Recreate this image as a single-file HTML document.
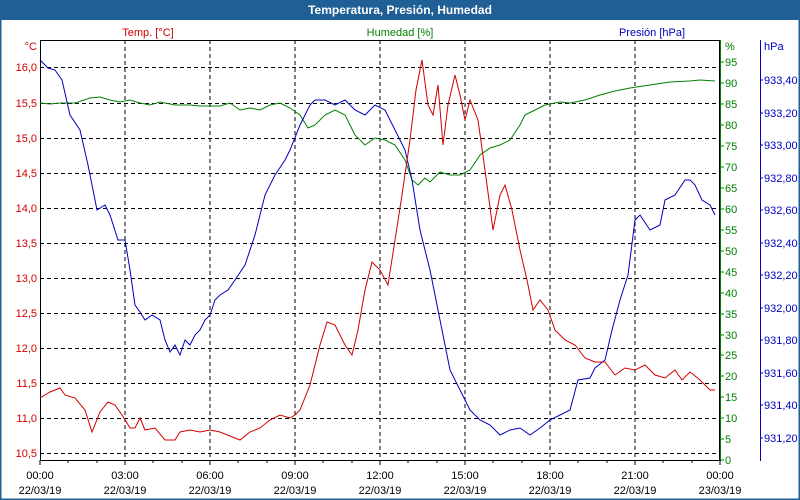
<!DOCTYPE html>
<html><head><meta charset="utf-8"><style>
html,body{margin:0;padding:0;background:#fff}
svg{display:block;font-family:"Liberation Sans",sans-serif}
</style></head><body>
<svg width="800" height="500" xmlns="http://www.w3.org/2000/svg">
<rect x="0" y="0" width="800" height="500" fill="#fff"/>
<rect x="0" y="0" width="800" height="20" fill="#1f5f96"/>
<rect x="0.5" y="0.5" width="799" height="499" fill="none" stroke="#1f5f96" stroke-width="2"/>
<text x="400" y="14" fill="#fff" font-size="12" font-weight="bold" text-anchor="middle">Temperatura, Presión, Humedad</text>
<g font-size="11">
<text x="148" y="36" fill="#d00000" text-anchor="middle">Temp. [°C]</text>
<text x="400" y="36" fill="#008000" text-anchor="middle">Humedad [%]</text>
<text x="652" y="36" fill="#0000c0" text-anchor="middle">Presión [hPa]</text>
</g>
<!-- grid -->
<g stroke="#000" stroke-dasharray="4,3" stroke-width="1">
<line x1="125" y1="40" x2="125" y2="460"/><line x1="210" y1="40" x2="210" y2="460"/><line x1="295" y1="40" x2="295" y2="460"/><line x1="380" y1="40" x2="380" y2="460"/><line x1="465" y1="40" x2="465" y2="460"/><line x1="550" y1="40" x2="550" y2="460"/><line x1="635" y1="40" x2="635" y2="460"/>
<line x1="40" y1="67.5" x2="720" y2="67.5"/><line x1="40" y1="103.5" x2="720" y2="103.5"/><line x1="40" y1="138.5" x2="720" y2="138.5"/><line x1="40" y1="173.5" x2="720" y2="173.5"/><line x1="40" y1="208.5" x2="720" y2="208.5"/><line x1="40" y1="243.5" x2="720" y2="243.5"/><line x1="40" y1="278.5" x2="720" y2="278.5"/><line x1="40" y1="313.5" x2="720" y2="313.5"/><line x1="40" y1="348.5" x2="720" y2="348.5"/><line x1="40" y1="383.5" x2="720" y2="383.5"/><line x1="40" y1="418.5" x2="720" y2="418.5"/><line x1="40" y1="453.5" x2="720" y2="453.5"/>
</g>
<rect x="40.5" y="40.5" width="679" height="420" fill="none" stroke="#000"/>
<line x1="720.5" y1="40" x2="720.5" y2="461" stroke="#008000"/>
<line x1="760.5" y1="40" x2="760.5" y2="461" stroke="#0000c0"/>
<!-- left labels -->
<g font-size="11" fill="#d00000" text-anchor="end">
<text x="37" y="50">°C</text>
<text x="37" y="71">16,0</text><text x="37" y="107">15,5</text><text x="37" y="142">15,0</text><text x="37" y="177">14,5</text><text x="37" y="212">14,0</text><text x="37" y="247">13,5</text><text x="37" y="282">13,0</text><text x="37" y="317">12,5</text><text x="37" y="352">12,0</text><text x="37" y="387">11,5</text><text x="37" y="422">11,0</text><text x="37" y="457">10,5</text>
</g>
<g font-size="11" fill="#008000">
<text x="725" y="50">%</text>
<text x="725" y="66">95</text><text x="725" y="87">90</text><text x="725" y="108">85</text><text x="725" y="129">80</text><text x="725" y="150">75</text><text x="725" y="171">70</text><text x="725" y="192">65</text><text x="725" y="213">60</text><text x="725" y="234">55</text><text x="725" y="255">50</text><text x="725" y="276">45</text><text x="725" y="297">40</text><text x="725" y="318">35</text><text x="725" y="339">30</text><text x="725" y="359">25</text><text x="725" y="380">20</text><text x="725" y="401">15</text><text x="725" y="422">10</text><text x="725" y="443">5</text><text x="725" y="464">0</text>
</g>
<g stroke="#008000"><path d="M720 62h4M720 83h4M720 104h4M720 125h4M720 146h4M720 167h4M720 188h4M720 209h4M720 230h4M720 251h4M720 272h4M720 293h4M720 314h4M720 335h4M720 355h4M720 376h4M720 397h4M720 418h4M720 439h4M720 460h4"/></g>
<g font-size="11" fill="#0000c0">
<text x="764" y="50">hPa</text>
<text x="764" y="84">933,40</text><text x="764" y="117">933,20</text><text x="764" y="149">933,00</text><text x="764" y="182">932,80</text><text x="764" y="214">932,60</text><text x="764" y="247">932,40</text><text x="764" y="279">932,20</text><text x="764" y="312">932,00</text><text x="764" y="344">931,80</text><text x="764" y="377">931,60</text><text x="764" y="409">931,40</text><text x="764" y="442">931,20</text>
</g>
<g stroke="#0000c0"><path d="M760 80h3M760 113h3M760 145h3M760 178h3M760 210h3M760 243h3M760 275h3M760 308h3M760 340h3M760 373h3M760 405h3M760 438h3"/></g>
<g stroke="#000"><path d="M40 460v5M68 460v3M97 460v3M125 460v5M153 460v3M182 460v3M210 460v5M238 460v3M267 460v3M295 460v5M323 460v3M352 460v3M380 460v5M408 460v3M437 460v3M465 460v5M493 460v3M522 460v3M550 460v5M578 460v3M607 460v3M635 460v5M663 460v3M692 460v3M720 460v5"/></g>
<g font-size="11" fill="#000" text-anchor="middle">
<text x="40" y="479">00:00</text><text x="40" y="494">22/03/19</text>
<text x="125" y="479">03:00</text><text x="125" y="494">22/03/19</text>
<text x="210" y="479">06:00</text><text x="210" y="494">22/03/19</text>
<text x="295" y="479">09:00</text><text x="295" y="494">22/03/19</text>
<text x="380" y="479">12:00</text><text x="380" y="494">22/03/19</text>
<text x="465" y="479">15:00</text><text x="465" y="494">22/03/19</text>
<text x="550" y="479">18:00</text><text x="550" y="494">22/03/19</text>
<text x="635" y="479">21:00</text><text x="635" y="494">22/03/19</text>
<text x="720" y="479">00:00</text><text x="720" y="494">23/03/19</text>
</g>
<polyline fill="none" stroke="#008000" stroke-width="1" points="40,103 50,104 60,103 75,103 90,98 100,97 110,100 120,102 130,100 140,103 150,105 160,102 175,105 190,105 200,106 210,106 220,106 230,103 240,110 250,108 260,110 270,105 280,103 290,108 300,115 308,128 315,125 325,115 335,110 345,115 355,135 365,145 375,138 385,140 395,145 405,160 412,180 418,185 425,178 430,182 440,172 450,175 460,175 470,170 480,155 490,148 500,145 510,140 520,125 525,115 535,110 545,105 560,102 570,103 585,100 600,95 615,91 630,88 650,85 670,82 690,81 700,80 715,81"/>
<polyline fill="none" stroke="#0000c0" stroke-width="1" points="40,60 48,68 55,70 62,80 70,115 80,130 88,165 97,210 105,205 110,215 118,240 125,240 130,270 135,305 140,312 145,320 152,315 160,320 165,340 170,352 175,345 180,355 185,340 190,345 195,335 200,330 205,320 210,315 215,300 220,295 228,290 235,280 245,265 255,235 265,195 275,175 285,160 290,150 300,125 310,105 315,100 325,100 335,105 345,100 355,110 365,115 375,105 385,110 395,130 405,150 412,180 420,230 430,270 440,320 450,370 460,390 470,410 480,420 490,425 500,435 510,430 520,428 530,435 540,428 550,420 560,415 570,410 578,380 590,378 595,368 605,360 612,330 620,300 628,275 635,220 640,215 650,230 660,225 665,200 675,195 685,180 690,180 695,185 702,200 710,205 715,215"/>
<polyline fill="none" stroke="#d00000" stroke-width="1" points="40,398 50,392 60,388 65,395 75,398 85,410 92,432 100,412 108,402 115,405 122,415 130,428 135,428 140,418 145,430 155,428 165,440 175,440 180,432 190,430 200,432 210,430 220,432 230,436 240,440 250,432 260,428 270,420 280,415 290,418 295,415 300,410 310,385 320,345 327,322 335,325 345,345 352,355 358,330 365,290 372,262 380,270 388,285 395,240 402,195 410,140 416,90 422,60 428,105 433,115 438,85 443,145 448,105 455,75 460,95 465,120 470,100 478,120 485,170 493,230 500,195 505,185 512,210 520,250 527,280 533,310 540,300 548,310 555,330 565,340 575,345 585,358 595,362 605,362 615,375 625,368 635,370 645,365 655,375 665,378 675,370 682,380 690,372 700,380 710,390 715,390"/>
</svg>
</body></html>
